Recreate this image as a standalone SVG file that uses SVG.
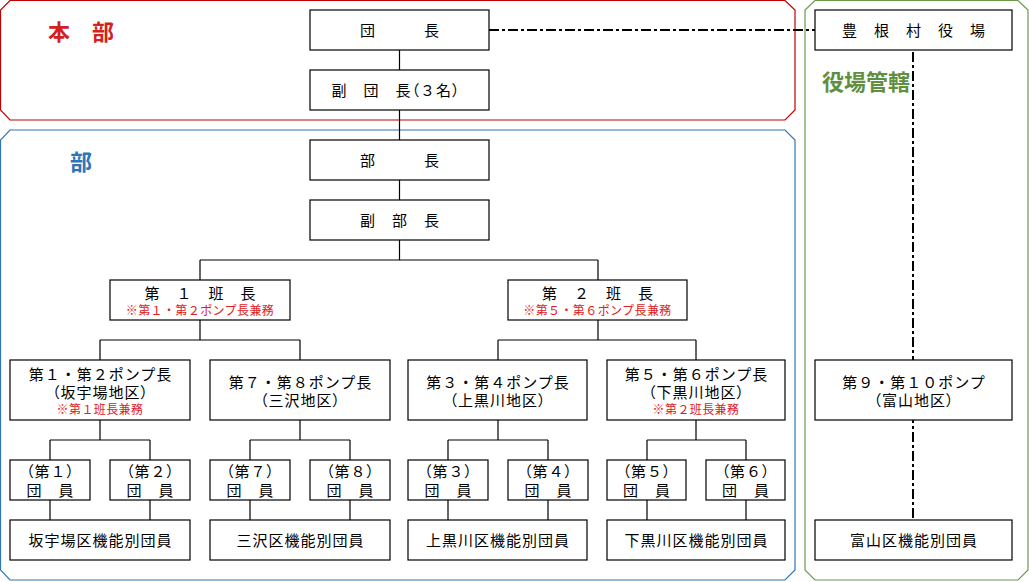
<svg xmlns="http://www.w3.org/2000/svg" width="1029" height="582" viewBox="0 0 1029 582">
<style>
.b{fill:#fff;stroke:#000;stroke-width:1.2}
.t{font-family:"Noto Sans CJK JP","Liberation Sans",sans-serif;font-size:15px;letter-spacing:1px;fill:#000;text-anchor:middle}
.p{font-feature-settings:"palt"}
.r{font-family:"Noto Sans CJK JP","Liberation Sans",sans-serif;font-size:12px;letter-spacing:0.4px;fill:#e02020;text-anchor:middle}
.c{fill:none;stroke:#000;stroke-width:1.2}
.dd{fill:none;stroke:#000;stroke-width:2;stroke-dasharray:10 3 3 3}
.lab{font-family:"Noto Sans CJK JP","Liberation Sans",sans-serif;font-size:22px;font-weight:bold}
</style>
<rect width="1029" height="582" fill="#fff"/>
<g id="regions">
<polygon points="10,0.5 785,0.5 795,10 795,110 785,120 10,120 0.5,110 0.5,10" fill="none" stroke="#c00000" stroke-width="1.2"/>
<polygon points="10,130 785,130 795,140 795,570 785,580 10,580 0.5,570 0.5,140" fill="none" stroke="#2e75b6" stroke-width="1.2"/>
<polygon points="815,0.5 1018,0.5 1028,10 1028,570 1018,580 815,580 805,570 805,10" fill="none" stroke="#6a9a4a" stroke-width="1.2"/>
<text class="lab" x="48" y="40" fill="#d42020">本　部</text>
<text class="lab" x="70" y="170" fill="#2e75b6">部</text>
<text class="lab" x="822" y="90" fill="#5f8f3f">役場管轄</text>
</g>
<g id="connectors">
<path class="c" d="M399.5 50V70M399.5 110V140M399.5 180V200M399.5 240V260M200 260H598M200 260V280M598 260V280"/>
<path class="c" d="M200 320V340M100 340H300M100 340V360M300 340V360M598 320V340M498 340H696M498 340V360M696 340V360"/>
<path class="c" d="M100 420V440M50 440H150M50 440V460M150 440V460M300 420V440M250 440H350M250 440V460M350 440V460M498 420V440M448 440H548M448 440V460M548 440V460M696 420V440M647 440H746M647 440V460M746 440V460"/>
<path class="c" d="M50 500V520M150 500V520M250 500V520M350 500V520M448 500V520M548 500V520M647 500V520M746 500V520"/>
<path class="dd" d="M489 30H815M913 52V520"/>
</g>
<g id="n-dancho"><rect class="b" x="310" y="10" width="179" height="40"/><text class="t" x="400" y="36">団　　　長</text></g>
<g id="n-fukudancho"><rect class="b" x="310" y="70" width="179" height="40"/><text class="t" x="396" y="96">副　団　長<tspan class="p">（</tspan>３名<tspan class="p">）</tspan></text></g>
<g id="n-bucho"><rect class="b" x="310" y="140" width="179" height="40"/><text class="t" x="400" y="166">部　　　長</text></g>
<g id="n-fukubucho"><rect class="b" x="310" y="200" width="179" height="40"/><text class="t" x="400" y="226">副　部　長</text></g>
<g id="n-yakuba"><rect class="b" x="815" y="10" width="197" height="40"/><text class="t" x="914" y="36">豊　根　村　役　場</text></g>
<g id="n-han1"><rect class="b" x="110" y="280" width="180" height="40"/><text class="t" x="200.5" y="299">第　１　班　長</text><text class="r" x="200" y="315">※第１・第２ポンプ長兼務</text></g>
<g id="n-han2"><rect class="b" x="508" y="280" width="179" height="40"/><text class="t" x="598" y="299">第　２　班　長</text><text class="r" x="597.5" y="315">※第５・第６ポンプ長兼務</text></g>
<g id="n-p12"><rect class="b" x="10" y="360" width="180" height="60"/><text class="t" x="100.5" y="380">第１・第２ポンプ長</text><text class="t" x="100.5" y="398"><tspan class="p">（</tspan>坂宇場地区<tspan class="p">）</tspan></text><text class="r" x="100" y="414">※第１班長兼務</text></g>
<g id="n-p78"><rect class="b" x="210" y="360" width="180" height="60"/><text class="t" x="300.5" y="388">第７・第８ポンプ長</text><text class="t" x="300.5" y="406"><tspan class="p">（</tspan>三沢地区<tspan class="p">）</tspan></text></g>
<g id="n-p34"><rect class="b" x="408" y="360" width="179" height="60"/><text class="t" x="498" y="388">第３・第４ポンプ長</text><text class="t" x="498" y="406"><tspan class="p">（</tspan>上黒川地区<tspan class="p">）</tspan></text></g>
<g id="n-p56"><rect class="b" x="607" y="360" width="178" height="60"/><text class="t" x="696.5" y="380">第５・第６ポンプ長</text><text class="t" x="696.5" y="398"><tspan class="p">（</tspan>下黒川地区<tspan class="p">）</tspan></text><text class="r" x="696" y="414">※第２班長兼務</text></g>
<g id="n-p910"><rect class="b" x="815" y="360" width="197" height="60"/><text class="t" x="914" y="388">第９・第１０ポンプ</text><text class="t" x="914" y="406"><tspan class="p">（</tspan>富山地区<tspan class="p">）</tspan></text></g>
<g id="n-m1"><rect class="b" x="10" y="460" width="80" height="40"/><text class="t" x="50.5" y="477"><tspan class="p">（</tspan>第１<tspan class="p">）</tspan></text><text class="t" x="50.5" y="496">団　員</text></g>
<g id="n-m2"><rect class="b" x="110" y="460" width="80" height="40"/><text class="t" x="150.5" y="477"><tspan class="p">（</tspan>第２<tspan class="p">）</tspan></text><text class="t" x="150.5" y="496">団　員</text></g>
<g id="n-m7"><rect class="b" x="210" y="460" width="80" height="40"/><text class="t" x="250.5" y="477"><tspan class="p">（</tspan>第７<tspan class="p">）</tspan></text><text class="t" x="250.5" y="496">団　員</text></g>
<g id="n-m8"><rect class="b" x="310" y="460" width="80" height="40"/><text class="t" x="350.5" y="477"><tspan class="p">（</tspan>第８<tspan class="p">）</tspan></text><text class="t" x="350.5" y="496">団　員</text></g>
<g id="n-m3"><rect class="b" x="408" y="460" width="80" height="40"/><text class="t" x="448.5" y="477"><tspan class="p">（</tspan>第３<tspan class="p">）</tspan></text><text class="t" x="448.5" y="496">団　員</text></g>
<g id="n-m4"><rect class="b" x="508" y="460" width="80" height="40"/><text class="t" x="548.5" y="477"><tspan class="p">（</tspan>第４<tspan class="p">）</tspan></text><text class="t" x="548.5" y="496">団　員</text></g>
<g id="n-m5"><rect class="b" x="607" y="460" width="79" height="40"/><text class="t" x="647" y="477"><tspan class="p">（</tspan>第５<tspan class="p">）</tspan></text><text class="t" x="647" y="496">団　員</text></g>
<g id="n-m6"><rect class="b" x="706" y="460" width="79" height="40"/><text class="t" x="746" y="477"><tspan class="p">（</tspan>第６<tspan class="p">）</tspan></text><text class="t" x="746" y="496">団　員</text></g>
<g id="n-k1"><rect class="b" x="10" y="520" width="180" height="40"/><text class="t" x="100.5" y="546">坂宇場区機能別団員</text></g>
<g id="n-k2"><rect class="b" x="210" y="520" width="180" height="40"/><text class="t" x="300.5" y="546">三沢区機能別団員</text></g>
<g id="n-k3"><rect class="b" x="408" y="520" width="179" height="40"/><text class="t" x="498" y="546">上黒川区機能別団員</text></g>
<g id="n-k4"><rect class="b" x="607" y="520" width="178" height="40"/><text class="t" x="696.5" y="546">下黒川区機能別団員</text></g>
<g id="n-k5"><rect class="b" x="815" y="520" width="197" height="40"/><text class="t" x="914" y="546">富山区機能別団員</text></g>
</svg>
